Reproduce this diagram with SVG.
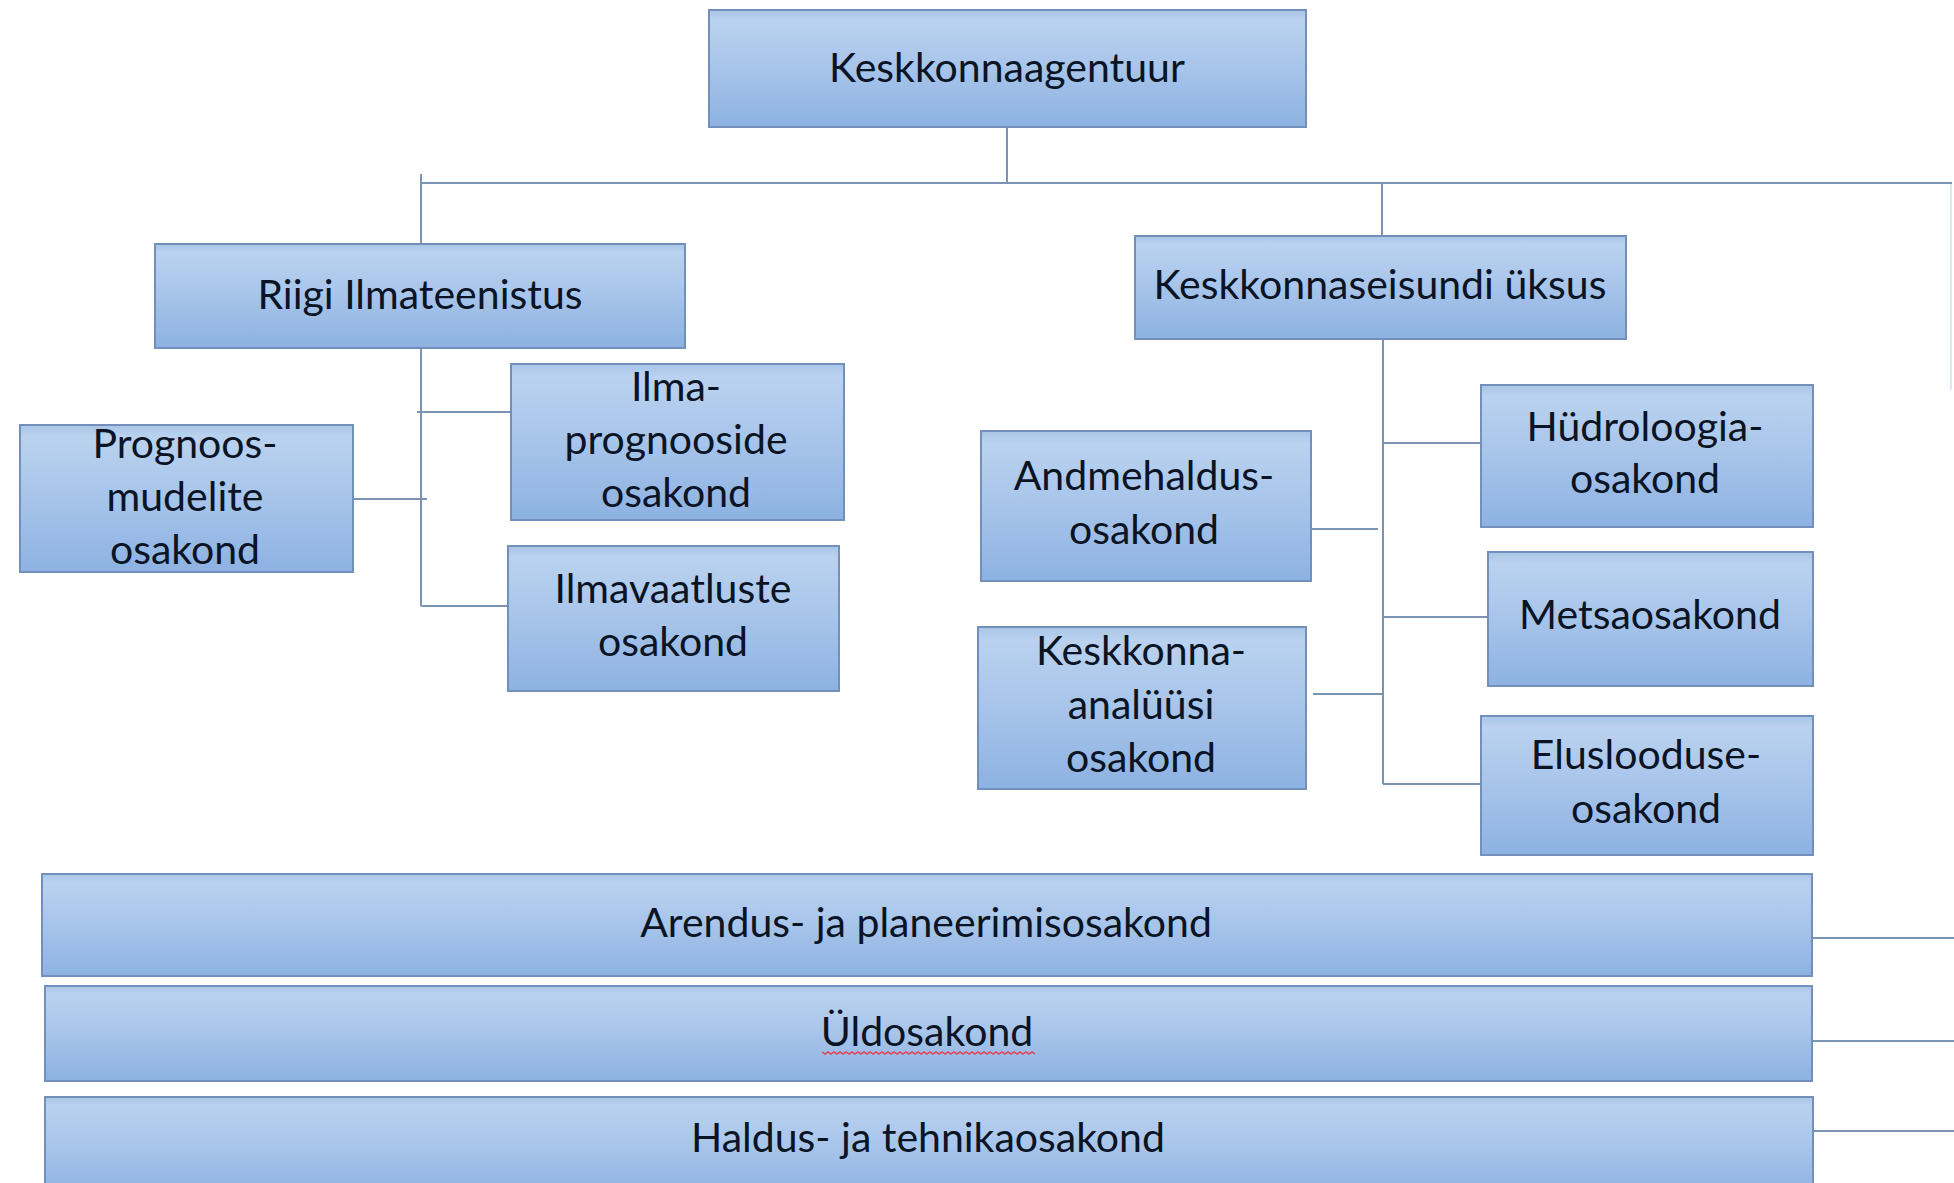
<svg xmlns="http://www.w3.org/2000/svg" width="1954" height="1183" viewBox="0 0 1954 1183">
  <defs>
    <linearGradient id="boxFill" x1="0" y1="0" x2="0" y2="1">
      <stop offset="0" stop-color="#a9c4e6"/>
      <stop offset="0.08" stop-color="#bad2ef"/>
      <stop offset="0.5" stop-color="#a7c4ea"/>
      <stop offset="1" stop-color="#8db2e2"/>
    </linearGradient>
    <style>
      .box { fill: url(#boxFill); stroke: #7390bd; stroke-width: 2; }
      .lbl { font-family: Lato, "Open Sans", "Liberation Sans", sans-serif; font-size: 41px; fill: #0a1424; text-anchor: middle; }
      .conn { stroke: #7d93b3; stroke-width: 2; fill: none; }
      .faint { stroke: #dce8f4; stroke-width: 2; fill: none; }
    </style>
  </defs>
  <rect width="1954" height="1183" fill="#ffffff"/>

  <g id="connectors">
    <line class="conn" x1="1007" y1="127" x2="1007" y2="183"/>
    <line class="conn" x1="421" y1="183" x2="1952" y2="183"/>
    <line class="conn" x1="421" y1="174" x2="421" y2="244"/>
    <line class="conn" x1="1382" y1="183" x2="1382" y2="236"/>
    <line class="faint" x1="1951" y1="184" x2="1951" y2="390"/>
    <line class="conn" x1="421" y1="348" x2="421" y2="606"/>
    <line class="conn" x1="417" y1="412" x2="511" y2="412"/>
    <line class="conn" x1="353" y1="499" x2="427" y2="499"/>
    <line class="conn" x1="421" y1="606" x2="508" y2="606"/>
    <line class="conn" x1="1383" y1="339" x2="1383" y2="784"/>
    <line class="conn" x1="1383" y1="443" x2="1480" y2="443"/>
    <line class="conn" x1="1383" y1="617" x2="1487" y2="617"/>
    <line class="conn" x1="1383" y1="784" x2="1480" y2="784"/>
    <line class="conn" x1="1311" y1="529" x2="1378" y2="529"/>
    <line class="conn" x1="1313" y1="694" x2="1383" y2="694"/>
    <line class="conn" x1="1812" y1="938" x2="1954" y2="938"/>
    <line class="conn" x1="1812" y1="1041" x2="1954" y2="1041"/>
    <line class="conn" x1="1813" y1="1131" x2="1954" y2="1131"/>
  </g>

  <g id="keskkonnaagentuur">
    <rect class="box" x="709" y="10" width="597" height="117"/>
    <text class="lbl" x="1007" y="82">Keskkonnaagentuur</text>
  </g>
  <g id="riigi-ilmateenistus">
    <rect class="box" x="155" y="244" width="530" height="104"/>
    <text class="lbl" x="420" y="309">Riigi Ilmateenistus</text>
  </g>
  <g id="keskkonnaseisundi-uksus">
    <rect class="box" x="1135" y="236" width="491" height="103"/>
    <text class="lbl" x="1380" y="299">Keskkonnaseisundi üksus</text>
  </g>
  <g id="prognoosmudelite">
    <rect class="box" x="20" y="425" width="333" height="147"/>
    <text class="lbl" x="185" y="458">Prognoos-</text>
    <text class="lbl" x="185" y="511">mudelite</text>
    <text class="lbl" x="185" y="564">osakond</text>
  </g>
  <g id="ilmaprognooside">
    <rect class="box" x="511" y="364" width="333" height="156"/>
    <text class="lbl" x="676" y="401">Ilma-</text>
    <text class="lbl" x="676" y="454">prognooside</text>
    <text class="lbl" x="676" y="507">osakond</text>
  </g>
  <g id="ilmavaatluste">
    <rect class="box" x="508" y="546" width="331" height="145"/>
    <text class="lbl" x="673" y="603">Ilmavaatluste</text>
    <text class="lbl" x="673" y="656">osakond</text>
  </g>
  <g id="andmehaldus">
    <rect class="box" x="981" y="431" width="330" height="150"/>
    <text class="lbl" x="1144" y="490">Andmehaldus-</text>
    <text class="lbl" x="1144" y="544">osakond</text>
  </g>
  <g id="keskkonnaanaluusi">
    <rect class="box" x="978" y="627" width="328" height="162"/>
    <text class="lbl" x="1141" y="665">Keskkonna-</text>
    <text class="lbl" x="1141" y="719">analüüsi</text>
    <text class="lbl" x="1141" y="772">osakond</text>
  </g>
  <g id="hudroloogia">
    <rect class="box" x="1481" y="385" width="332" height="142"/>
    <text class="lbl" x="1645" y="441">Hüdroloogia-</text>
    <text class="lbl" x="1645" y="493">osakond</text>
  </g>
  <g id="metsaosakond">
    <rect class="box" x="1488" y="552" width="325" height="134"/>
    <text class="lbl" x="1650" y="629">Metsaosakond</text>
  </g>
  <g id="eluslooduse">
    <rect class="box" x="1481" y="716" width="332" height="139"/>
    <text class="lbl" x="1646" y="769">Eluslooduse-</text>
    <text class="lbl" x="1646" y="823">osakond</text>
  </g>
  <g id="arendus">
    <rect class="box" x="42" y="874" width="1770" height="102"/>
    <text class="lbl" x="926" y="937">Arendus- ja planeerimisosakond</text>
  </g>
  <g id="uldosakond">
    <rect class="box" x="45" y="986" width="1767" height="95"/>
    <text class="lbl" x="927" y="1046">Üldosakond</text>
    <path d="M822 1052 l3 2 l3 -2 l3 2 l3 -2 l3 2 l3 -2 l3 2 l3 -2 l3 2 l3 -2 l3 2 l3 -2 l3 2 l3 -2 l3 2 l3 -2 l3 2 l3 -2 l3 2 l3 -2 l3 2 l3 -2 l3 2 l3 -2 l3 2 l3 -2 l3 2 l3 -2 l3 2 l3 -2 l3 2 l3 -2 l3 2 l3 -2 l3 2 l3 -2 l3 2 l3 -2 l3 2 l3 -2 l3 2 l3 -2 l3 2 l3 -2 l3 2 l3 -2 l3 2 l3 -2 l3 2 l3 -2 l3 2 l3 -2 l3 2 l3 -2 l3 2 l3 -2 l3 2 l3 -2 l3 2 l3 -2 l3 2 l3 -2 l3 2 l3 -2 l3 2 l3 -2 l3 2 l3 -2 l3 2 l3 -2 l3 2" fill="none" stroke="#e0424f" stroke-width="1.5"/>
  </g>
  <g id="haldus">
    <rect class="box" x="45" y="1097" width="1768" height="100"/>
    <text class="lbl" x="928" y="1152">Haldus- ja tehnikaosakond</text>
  </g>
</svg>
